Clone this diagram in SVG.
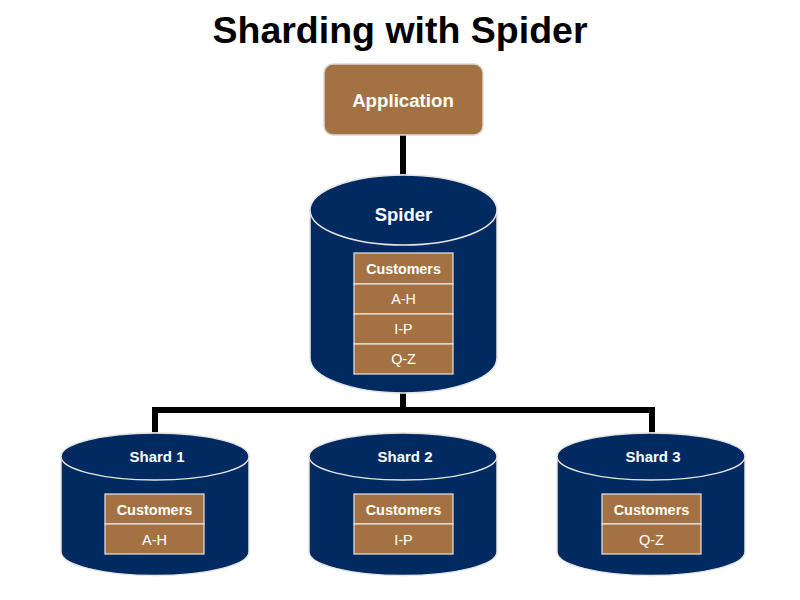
<svg xmlns="http://www.w3.org/2000/svg" width="800" height="600" viewBox="0 0 800 600">
<style>
.bg{fill:#ffffff}
.title{font-family:"Liberation Sans",Arial,sans-serif;font-weight:bold;font-size:37.5px;fill:#000;text-anchor:middle}
.app{fill:#A47242;stroke:#d9d9d9;stroke-width:1.5}
.db{fill:#002A60;stroke:#e6e6e6;stroke-width:1.5}
.cell{fill:#A47242;stroke:#e6e6e6;stroke-width:1.2}
.lbl{font-family:"Liberation Sans",Arial,sans-serif;fill:#fff;text-anchor:middle}
.b{font-weight:bold}
.wire{fill:none;stroke:#000;stroke-width:6}
</style>
<rect class="bg" width="800" height="600"/>
<text class="title" x="400" y="43">Sharding with Spider</text>
<g id="connectors">
<line class="wire" x1="403" y1="135" x2="403" y2="176"/>
<polyline class="wire" points="403,392 403,410"/>
<polyline class="wire" points="155,436 155,410 652,410 652,436"/>
</g>
<g id="application">
<rect class="app" x="324" y="64" width="159" height="71" rx="9"/>
<text class="lbl b" x="403" y="107" font-size="18.7">Application</text>
</g>
<g id="spider">
<path class="db" d="M310,210 L310,358 A93.5,35 0 0 0 497,358 L497,210 A93.5,35 0 0 0 310,210 Z"/>
<ellipse class="db" cx="403.5" cy="210" rx="93.5" ry="35"/>
<text class="lbl b" x="403.5" y="221" font-size="18.5">Spider</text>
<rect class="cell" x="354" y="253" width="99" height="31"/>
<rect class="cell" x="354" y="284" width="99" height="30"/>
<rect class="cell" x="354" y="314" width="99" height="30"/>
<rect class="cell" x="354" y="344" width="99" height="30"/>
<text class="lbl b" x="403.5" y="274" font-size="14.3">Customers</text>
<text class="lbl" x="403.5" y="304" font-size="14.3">A-H</text>
<text class="lbl" x="403.5" y="334" font-size="14.3">I-P</text>
<text class="lbl" x="403.5" y="364" font-size="14.3">Q-Z</text>
</g>
<g id="shard1">
<path class="db" d="M61,456.5 L61,552 A94,23.5 0 0 0 249,552 L249,456.5 A94,23.5 0 0 0 61,456.5 Z"/>
<ellipse class="db" cx="155" cy="456.5" rx="94" ry="23.5"/>
<text class="lbl b" x="157" y="462" font-size="15">Shard 1</text>
<rect class="cell" x="105" y="494" width="99" height="30"/>
<rect class="cell" x="105" y="524" width="99" height="30"/>
<text class="lbl b" x="154.5" y="515" font-size="14.5">Customers</text>
<text class="lbl" x="154.5" y="545" font-size="14.5">A-H</text>
</g>
<g id="shard2">
<path class="db" d="M309,456.5 L309,552 A94,23.5 0 0 0 497,552 L497,456.5 A94,23.5 0 0 0 309,456.5 Z"/>
<ellipse class="db" cx="403" cy="456.5" rx="94" ry="23.5"/>
<text class="lbl b" x="405" y="462" font-size="15">Shard 2</text>
<rect class="cell" x="354" y="494" width="99" height="30"/>
<rect class="cell" x="354" y="524" width="99" height="30"/>
<text class="lbl b" x="403.5" y="515" font-size="14.5">Customers</text>
<text class="lbl" x="403.5" y="545" font-size="14.5">I-P</text>
</g>
<g id="shard3">
<path class="db" d="M557,456.5 L557,552 A94,23.5 0 0 0 745,552 L745,456.5 A94,23.5 0 0 0 557,456.5 Z"/>
<ellipse class="db" cx="651" cy="456.5" rx="94" ry="23.5"/>
<text class="lbl b" x="653" y="462" font-size="15">Shard 3</text>
<rect class="cell" x="602" y="494" width="99" height="30"/>
<rect class="cell" x="602" y="524" width="99" height="30"/>
<text class="lbl b" x="651.5" y="515" font-size="14.5">Customers</text>
<text class="lbl" x="651.5" y="545" font-size="14.5">Q-Z</text>
</g>
</svg>
